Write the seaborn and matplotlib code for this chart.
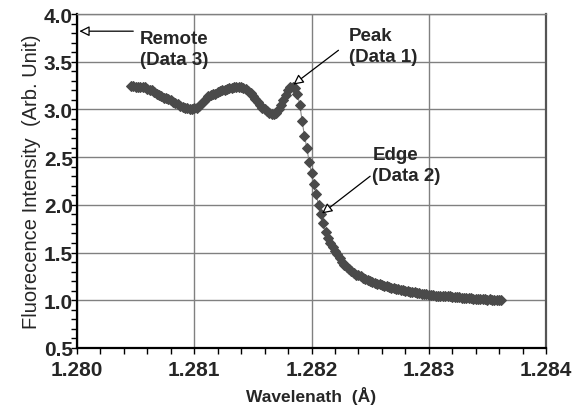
import numpy as np
import pandas as pd
import seaborn as sns
import matplotlib.pyplot as plt
from matplotlib.ticker import MultipleLocator

# Scan: evenly spaced wavelength steps (Angstrom), intensities
wl_start = 1.28046
wl_end = 1.28362
intensity = [
    3.25, 3.25, 3.24, 3.24, 3.23, 3.24, 3.23, 3.21, 3.20, 3.20,
    3.18, 3.16, 3.15, 3.14, 3.12, 3.12, 3.11, 3.10, 3.08, 3.07,
    3.06, 3.04, 3.03, 3.02, 3.01, 3.00, 3.00, 3.01, 3.02, 3.04,
    3.06, 3.09, 3.11, 3.14, 3.15, 3.16, 3.16, 3.18, 3.19, 3.20,
    3.20, 3.21, 3.22, 3.22, 3.23, 3.23, 3.23, 3.23, 3.22, 3.21,
    3.19, 3.17, 3.14, 3.11, 3.08, 3.05, 3.02, 3.00, 2.98, 2.96,
    2.95, 2.95, 2.96, 3.00, 3.05, 3.10, 3.15, 3.20, 3.23, 3.24,
    3.22, 3.16, 3.05, 2.88, 2.72, 2.60, 2.45, 2.33, 2.22, 2.11,
    2.00, 1.90, 1.81, 1.72, 1.65, 1.60, 1.56, 1.52, 1.48, 1.44,
    1.40, 1.37, 1.35, 1.33, 1.31, 1.29, 1.27, 1.26, 1.25, 1.23,
    1.22, 1.21, 1.20, 1.19, 1.18, 1.17, 1.17, 1.16, 1.15, 1.15,
    1.14, 1.13, 1.13, 1.12, 1.12, 1.11, 1.11, 1.10, 1.10, 1.09,
    1.09, 1.09, 1.08, 1.08, 1.07, 1.07, 1.07, 1.06, 1.06, 1.06,
    1.05, 1.05, 1.05, 1.04, 1.04, 1.04, 1.04, 1.03, 1.03, 1.03,
    1.03, 1.02, 1.02, 1.02, 1.02, 1.02, 1.01, 1.01, 1.01, 1.01,
    1.01, 1.01, 1.00, 1.01, 1.00, 1.00, 1.00, 1.00, 1.00,
]

# Annotations: label, text top-left, arrow tail, arrow head
labels = ["Remote\n(Data 3)", "Peak\n(Data 1)", "Edge\n(Data 2)"]
text_pos = [(1.280535, 3.83), (1.28232, 3.86), (1.28252, 2.62)]
arrow_tail = [(1.28048, 3.82), (1.28223, 3.62), (1.28250, 2.30)]
arrow_head = [(1.28002, 3.82), (1.281845, 3.26), (1.28209, 1.91)]

wavelength = np.linspace(wl_start, wl_end, len(intensity))
df = pd.DataFrame({"wavelength": wavelength, "intensity": intensity})

sns.set_style("ticks")
plt.rcParams["font.family"] = ["Liberation Sans", "DejaVu Sans"]

fig, ax = plt.subplots(figsize=(5.81, 4.10), dpi=100)
fig.subplots_adjust(left=0.1325, right=0.9398, top=0.9634, bottom=0.1488)

sns.lineplot(data=df, x="wavelength", y="intensity", ax=ax, color="#8a8a8a",
             linewidth=0.8, marker="D", markersize=5,
             markerfacecolor="#4a4a4a", markeredgecolor="#4a4a4a", zorder=3)

ax.set_xlim(1.280, 1.284)
ax.set_ylim(0.5, 4.0)
ax.xaxis.set_major_locator(MultipleLocator(0.001))
ax.xaxis.set_minor_locator(MultipleLocator(0.0002))
ax.yaxis.set_major_locator(MultipleLocator(0.5))
ax.yaxis.set_minor_locator(MultipleLocator(0.1))
ax.xaxis.set_major_formatter(plt.FuncFormatter(lambda v, p: f"{v:.3f}"))
ax.yaxis.set_major_formatter(plt.FuncFormatter(lambda v, p: f"{v:.1f}"))
ax.grid(True, which="major", color="#808080", linewidth=1.0)

ax.tick_params(axis="both", which="both", direction="out", length=4,
               width=1, color="black")
ax.tick_params(axis="y", which="major", pad=-1, labelsize=15)
ax.tick_params(axis="x", which="major", pad=5, labelsize=15)
for lab in ax.get_xticklabels() + ax.get_yticklabels():
    lab.set_fontweight("bold")

for side in ["left", "bottom"]:
    ax.spines[side].set_color("black")
    ax.spines[side].set_linewidth(1.6)
ax.spines["top"].set_color("#808080")
ax.spines["top"].set_linewidth(1.0)
ax.spines["right"].set_color("#555555")
ax.spines["right"].set_linewidth(1.6)

ax.set_xlabel("Wavelenath  (Å)", fontsize=12.5, fontweight="bold", labelpad=5)
ax.set_ylabel("Fluorecence Intensity  (Arb. Unit)", fontsize=14.5, labelpad=2)

for tail, head in zip(arrow_tail, arrow_head):
    ax.annotate("", xy=head, xytext=tail,
                arrowprops=dict(arrowstyle="-|>", fc="white", ec="black",
                                lw=0.9, mutation_scale=15, shrinkA=0, shrinkB=0),
                zorder=5)
for lab, pos in zip(labels, text_pos):
    ax.text(pos[0], pos[1], lab, fontsize=13.5, fontweight="bold", ha="left",
            va="top", linespacing=1.3, zorder=6)

fig.savefig("out.png", dpi=100)
